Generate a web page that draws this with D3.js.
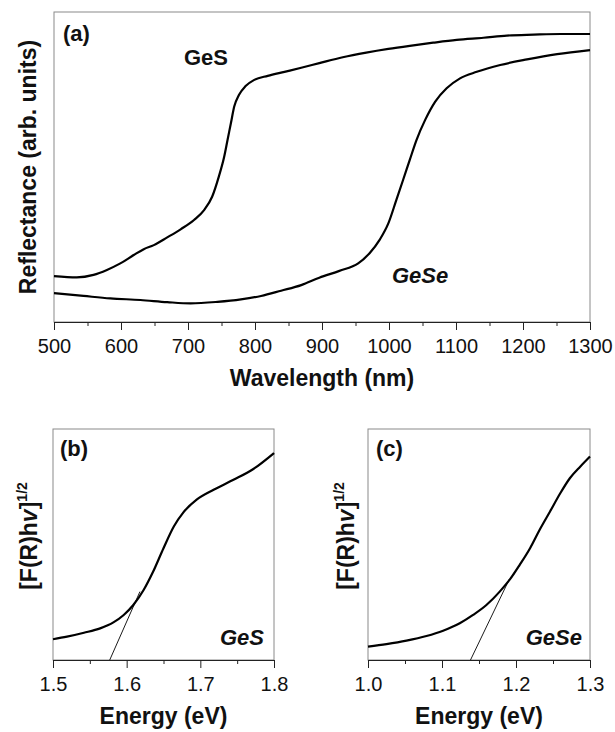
<!DOCTYPE html>
<html>
<head>
<meta charset="utf-8">
<script src="https://cdn.jsdelivr.net/npm/d3@7"></script>
<style>
  body { margin: 0; background: #fff; }
  svg { display: block; font-family: "Liberation Sans", Arial, sans-serif; }
</style>
</head>
<body>
<svg id="chart" width="615" height="732"></svg>
<script>
// panel (a): reflectance spectra, wavelength in nm, reflectance in arb. units (0-100)
const gesWavelength = [500, 534, 559, 579, 599, 619, 634, 649, 669, 689, 709, 724, 736, 746, 754, 759, 764, 769, 776, 786, 799, 819, 844, 869, 896, 931, 966, 999, 1031, 1066, 1101, 1141, 1176, 1216, 1256, 1300];
const gesReflectance = [14.8, 14.4, 15.2, 16.8, 18.9, 21.6, 23.5, 24.8, 27.3, 29.9, 32.9, 36.1, 40.4, 46.9, 53.3, 58.7, 64.1, 69.5, 73.2, 76.1, 78.1, 79.4, 80.7, 82.0, 83.5, 85.4, 86.9, 88.1, 89.1, 90.1, 91.0, 91.7, 92.4, 92.7, 92.9, 92.9];
const geseWavelength = [500, 544, 584, 629, 669, 704, 744, 779, 809, 839, 869, 896, 926, 954, 971, 986, 999, 1011, 1021, 1031, 1041, 1054, 1069, 1086, 1106, 1131, 1166, 1206, 1251, 1300];
const geseReflectance = [9.3, 8.4, 7.6, 7.1, 6.4, 6.0, 6.5, 7.3, 8.4, 10.1, 11.9, 14.3, 16.5, 18.9, 22.2, 26.5, 31.8, 39.4, 45.8, 52.3, 58.7, 65.2, 71.1, 75.4, 78.6, 80.7, 82.9, 84.7, 86.4, 87.7];
const wavelengthTicks = [500, 600, 700, 800, 900, 1000, 1100, 1200, 1300];

// panel (b): GeS Kubelka-Munk plot
const gesEnergy = [1.5, 1.519, 1.542, 1.564, 1.582, 1.596, 1.609, 1.623, 1.636, 1.65, 1.664, 1.677, 1.695, 1.718, 1.745, 1.772, 1.8];
const gesKM = [9.0, 10.1, 11.8, 13.7, 16.3, 19.5, 23.8, 30.3, 38.3, 48.4, 57.8, 63.9, 69.4, 73.7, 78.0, 82.7, 89.6];
const gesFitE = [1.577, 1.618];
const gesFitKM = [0, 29.6];
const gesEnergyTicks = [1.5, 1.6, 1.7, 1.8];

// panel (c): GeSe Kubelka-Munk plot
const geseEnergy = [1.0, 1.025, 1.052, 1.079, 1.1015, 1.124, 1.142, 1.16, 1.178, 1.192, 1.205, 1.219, 1.232, 1.246, 1.26, 1.273, 1.287, 1.3];
const geseKM = [5.8, 6.9, 8.4, 10.4, 12.7, 15.9, 19.5, 23.8, 29.6, 35.0, 41.2, 48.4, 56.4, 64.3, 72.3, 78.8, 83.8, 88.1];
const geseFitE = [1.1385, 1.191];
const geseFitKM = [0, 35.0];
const geseEnergyTicks = [1.0, 1.1, 1.2, 1.3];

const svg = d3.select("#chart");

function panel(opts) {
  const x = d3.scaleLinear().domain(opts.xDomain).range([opts.left, opts.right]);
  const y = d3.scaleLinear().domain([0, 100]).range([opts.bottom, opts.top]);
  const g = svg.append("g");

  // frame
  g.append("rect")
    .attr("x", opts.left).attr("y", opts.top)
    .attr("width", opts.right - opts.left).attr("height", opts.bottom - opts.top)
    .attr("fill", "none").attr("stroke", "#8a8a8a").attr("stroke-width", 1);

  // minor ticks
  const minor = g.append("g")
    .attr("transform", `translate(0,${opts.bottom})`)
    .call(d3.axisBottom(x).tickValues(opts.minorTicks).tickSize(4).tickFormat(""));
  minor.select(".domain").remove();

  // major ticks + labels
  const axis = g.append("g")
    .attr("transform", `translate(0,${opts.bottom})`)
    .call(d3.axisBottom(x).tickValues(opts.ticks).tickSize(8).tickPadding(9).tickFormat(opts.format).tickSizeOuter(0));
  axis.select(".domain").attr("stroke", "#222");
  axis.selectAll(".tick line").attr("stroke", "#222");
  minor.selectAll(".tick line").attr("stroke", "#222");
  axis.selectAll("text")
    .attr("font-size", 20)
    .attr("font-family", '"Liberation Sans", Arial, sans-serif')
    .attr("fill", "#111");

  const line = d3.line().x((d) => x(d[0])).y((d) => y(d[1])).curve(d3.curveMonotoneX);
  opts.series.forEach((s) => {
    g.append("path")
      .datum(d3.zip(s.x, s.y))
      .attr("d", line)
      .attr("fill", "none")
      .attr("stroke", "#000")
      .attr("stroke-width", 2.2)
      .attr("stroke-linejoin", "round");
  });
  if (opts.fit) {
    g.append("path")
      .datum(d3.zip(opts.fit.x, opts.fit.y))
      .attr("d", d3.line().x((d) => x(d[0])).y((d) => y(d[1])))
      .attr("fill", "none")
      .attr("stroke", "#000")
      .attr("stroke-width", 0.9);
  }

  // axis title
  svg.append("text")
    .attr("x", (opts.left + opts.right) / 2)
    .attr("y", opts.xTitleY)
    .attr("text-anchor", "middle")
    .attr("font-size", 23)
    .attr("font-weight", "bold")
    .attr("fill", "#111")
    .text(opts.xTitle);

  return { x, y };
}

function minorOf(ticks, step) {
  const out = [];
  for (let i = 0; i < ticks.length - 1; i++) out.push(+(ticks[i] + step).toFixed(3));
  return out;
}

// (a)
panel({
  left: 54, right: 590, top: 12, bottom: 322,
  xDomain: [500, 1300],
  ticks: wavelengthTicks,
  minorTicks: minorOf(wavelengthTicks, 50),
  format: d3.format("d"),
  xTitle: "Wavelength (nm)", xTitleY: 386,
  series: [
    { x: gesWavelength, y: gesReflectance },
    { x: geseWavelength, y: geseReflectance }
  ]
});

// (b)
panel({
  left: 53, right: 274, top: 429, bottom: 660,
  xDomain: [1.5, 1.8],
  ticks: gesEnergyTicks,
  minorTicks: minorOf(gesEnergyTicks, 0.05),
  format: d3.format(".1f"),
  xTitle: "Energy (eV)", xTitleY: 724,
  series: [{ x: gesEnergy, y: gesKM }],
  fit: { x: gesFitE, y: gesFitKM }
});

// (c)
panel({
  left: 368, right: 590, top: 429, bottom: 660,
  xDomain: [1.0, 1.3],
  ticks: geseEnergyTicks,
  minorTicks: minorOf(geseEnergyTicks, 0.05),
  format: d3.format(".1f"),
  xTitle: "Energy (eV)", xTitleY: 724,
  series: [{ x: geseEnergy, y: geseKM }],
  fit: { x: geseFitE, y: geseFitKM }
});

// y titles
svg.append("text")
  .attr("transform", "translate(36,167) rotate(-90)")
  .attr("text-anchor", "middle")
  .attr("font-size", 23)
  .attr("font-weight", "bold")
  .attr("fill", "#111")
  .text("Reflectance (arb. units)");

function kmTitle(cx) {
  const t = svg.append("text")
    .attr("transform", `translate(${cx},536) rotate(-90)`)
    .attr("text-anchor", "middle")
    .attr("font-size", 23)
    .attr("font-weight", "bold")
    .attr("fill", "#111");
  t.append("tspan").text("[F(R)h");
  t.append("tspan").attr("font-style", "italic").text("v");
  t.append("tspan").text("]");
  t.append("tspan").attr("font-size", 14).attr("dy", -10).text("1/2");
}
kmTitle(37);
kmTitle(354);

// panel letters and sample labels
const labels = [
  { text: "(a)", x: 63, y: 41, anchor: "start", italic: false },
  { text: "GeS", x: 184, y: 65, anchor: "start", italic: false },
  { text: "GeSe", x: 392, y: 283, anchor: "start", italic: true },
  { text: "(b)", x: 60, y: 456, anchor: "start", italic: false },
  { text: "GeS", x: 264, y: 645, anchor: "end", italic: true },
  { text: "(c)", x: 376, y: 456, anchor: "start", italic: false },
  { text: "GeSe", x: 582, y: 645, anchor: "end", italic: true }
];
svg.selectAll("text.label")
  .data(labels)
  .join("text")
  .attr("class", "label")
  .attr("x", (d) => d.x)
  .attr("y", (d) => d.y)
  .attr("text-anchor", (d) => d.anchor)
  .attr("font-size", 22)
  .attr("font-weight", "bold")
  .attr("font-style", (d) => (d.italic ? "italic" : "normal"))
  .attr("fill", "#111")
  .text((d) => d.text);
</script>
</body>
</html>
